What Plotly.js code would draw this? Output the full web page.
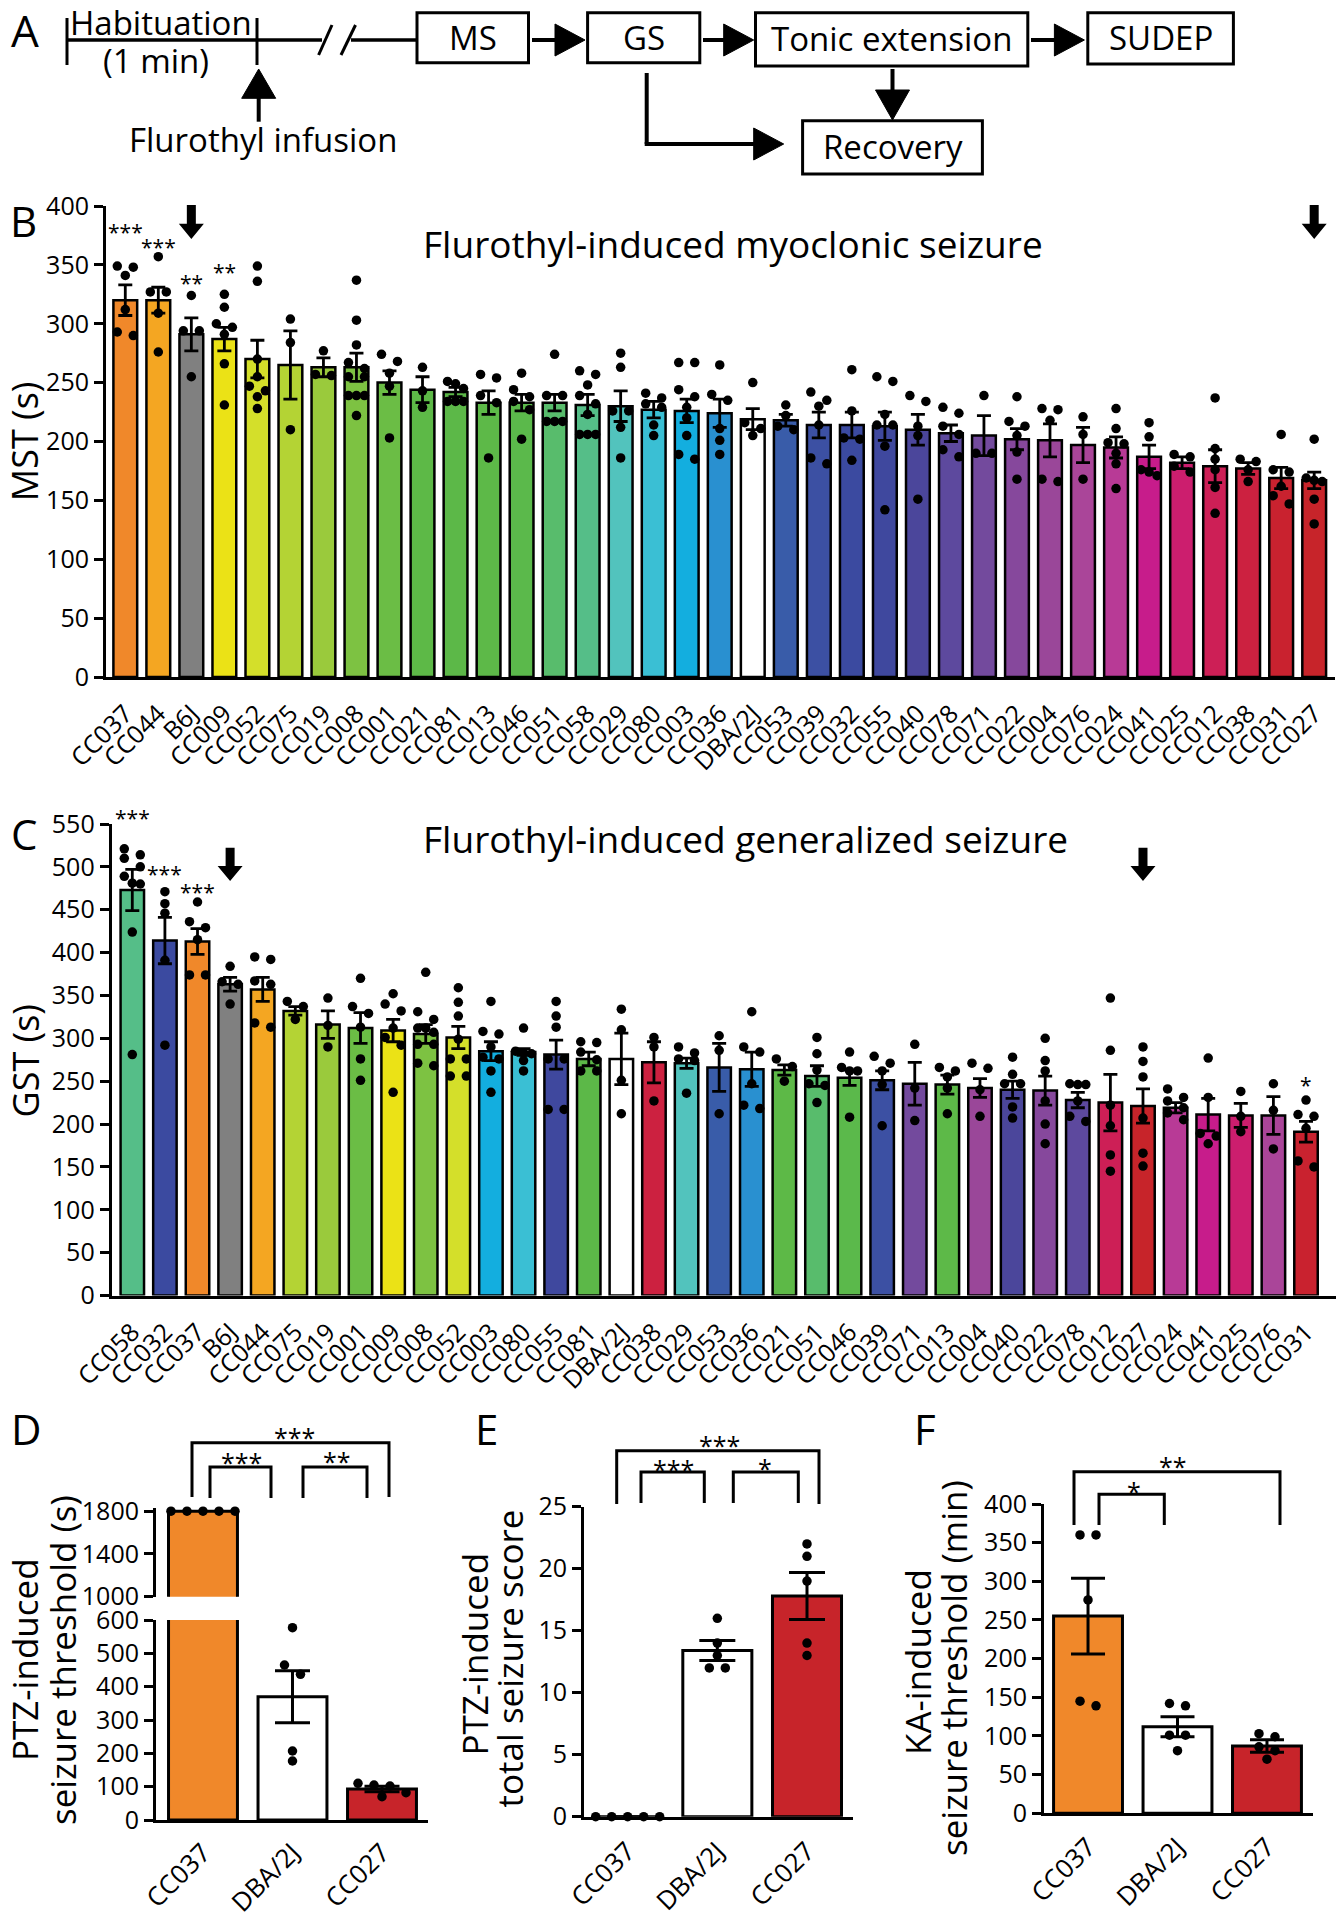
<!DOCTYPE html>
<html><head><meta charset="utf-8">
<script src="https://cdn.plot.ly/plotly-3.0.1.min.js"></script>
<style>html,body{margin:0;padding:0;background:#fff}#chart{width:1343px;height:1920px}</style>
</head><body><div id="chart"></div>
<script>
// ---------------- DATA ----------------
const strainsB = ['CC037','CC044','B6J','CC009','CC052','CC075','CC019','CC008','CC001','CC021','CC081','CC013','CC046','CC051','CC058','CC029','CC080','CC003','CC036','DBA/2J','CC053','CC039','CC032','CC055','CC040','CC078','CC071','CC022','CC004','CC076','CC024','CC041','CC025','CC012','CC038','CC031','CC027'];
const meanB = [320,320,291,287,270,265,263,263,250,244,242,233,233,233,231,230,227,226,224,219,218,214,214,213,210,207,205,202,201,197,195,187,182,179,177,169,167];
const semB  = [13,11,14,10,16,29,8,12,10,11,4,10,7,7,9,13,7,10,12,9,5,11,11,12,13,7,17,9,14,15,9,10,5,14,5,9,7];
const dotsB = [
 [348,349,341,312,293,290],[357,327,327,309,276],[324,294,294,255],[325,314,300,297,291,266,231],
 [349,336,270,255,247,243,238,228],[304,284,210],[277,257,256],[337,303,282,267,262,255,255,239,239,239,222],
 [274,268,258,247,203],[263,243,229],[251,249,245,234,234,234],[257,254,239,233,186],
 [258,244,238,234,227,202],[274,239,239,217,217,217],[260,257,248,239,232,223,206,206,206],[275,263,226,226,212,186],
 [241,237,232,229,214,205],[267,267,244,238,229,220,205,189,185],[265,240,235,211,201,189],[250,216,211,205],
 [231,222,213,210],[242,235,230,214,186,181],[261,226,203,202,184],[255,251,223,214,214,196,142],
 [239,234,213,205,151],[229,224,213,206,193,187],[239,190,190],[238,217,213,205,191,168],
 [228,227,218,168,166],[221,206,168],[228,211,199,198,190,181,160],[216,204,176,174,171],
 [189,187,179,174],[237,194,185,176,161,139],[185,183,176,166],[206,176,174,162,154,147],[202,169,167,166,151,130]
];
const starsB = {'CC037':'***','CC044':'***','B6J':'**','CC009':'**'};

const strainsC = ['CC058','CC032','CC037','B6J','CC044','CC075','CC019','CC001','CC009','CC008','CC052','CC003','CC080','CC055','CC081','DBA/2J','CC038','CC029','CC053','CC036','CC021','CC051','CC046','CC039','CC071','CC013','CC004','CC040','CC022','CC078','CC012','CC027','CC024','CC041','CC025','CC076','CC031'];
const meanC = [473,414,413,363,357,332,316,312,309,305,301,285,284,281,276,276,272,271,266,264,263,256,254,251,247,246,242,240,239,228,225,221,219,211,210,210,191];
const semC  = [24,27,15,8,14,5,16,18,13,11,13,11,4,17,8,30,24,6,28,20,6,12,9,11,25,11,11,10,17,9,33,20,6,19,14,22,12];
const dotsC = [
 [552,521,514,510,500,489,481,480,424,281],[471,457,446,391,292],[459,436,429,415,374,374],[384,366,363,340],
 [395,392,367,363,318,313],[343,337,322],[347,315,290],[370,337,329,313,276,251],
 [352,340,332,312,301,292,237],[377,331,322,312,312,307,293,293,271,268],[359,342,326,299,276,276,256,256],[343,308,305,290,278,276,262,237],
 [312,285,283,282,274,262],[343,326,313,276,276,217,217],[296,295,284,275,262,262],[334,310,251,212],
 [301,290,227],[290,283,276,274,236],[303,286,212],[331,290,284,247,222,218],
 [276,267,250],[301,282,263,247,245,225],[284,266,262,262,208],[279,271,262,246,198],
 [293,242,204],[266,262,255,242,212],[271,265,240,209],[278,258,247,247,220,207],
 [300,274,262,227,200,177],[247,246,246,227,209,203],[347,286,222,198,164,145],[290,273,255,207,166,151],
 [241,231,227,219,213,205],[277,231,189,186,177],[238,209,191],[247,216,171],[228,211,209,195,157,150]
];
const starsC = {'CC058':'***','CC032':'***','CC037':'***','CC031':'*'};

const strainsDEF = ['CC037','DBA/2J','CC027'];
const meanD = [1800,370,93];
const semD  = [0,78,8];
const dotsD = [[1800,1800,1800,1800,1800],[577,465,437,207,177],[110,105,102,82,70]];
const meanE = [0,13.4,17.8];
const semE  = [0,0.8,1.9];
const dotsE = [[0,0,0,0,0],[16,14,13,12,12],[22,21,19,14,13]];
const meanF = [255,112,87];
const semF  = [49,13,8];
const dotsF = [[360,360,276,145,139],[142,139,101,101,81],[103,99,86,81,70]];

const ticksB = [0,50,100,150,200,250,300,350,400];
const ticksC = [0,50,100,150,200,250,300,350,400,450,500,550];
const ticksDlow = [0,100,200,300,400,500,600];
const ticksDhigh = [1000,1400,1800];
const ticksE = [0,5,10,15,20,25];
const ticksF = [0,50,100,150,200,250,300,350,400];

// ---------------- STYLE ----------------
const colorMap = {
 'CC037':'#F0882A','CC044':'#F4A622','B6J':'#808080','CC009':'#EBE216','CC052':'#D4DF2A','CC075':'#B4D334',
 'CC019':'#9ACA3C','CC008':'#7DC242','CC001':'#6BBD45','CC021':'#5DB947','CC081':'#5CB848','CC013':'#5DB948',
 'CC046':'#5BB94B','CC051':'#58BC6C','CC058':'#55BE88','CC029':'#52C3BD','CC080':'#3ABFD4','CC003':'#13AEDF',
 'CC036':'#2990D0','DBA/2J':'#FFFFFF','CC053':'#395CA9','CC039':'#3C50A3','CC032':'#3B4AA0','CC055':'#3F489E',
 'CC040':'#4B469B','CC078':'#5D499E','CC071':'#734A9D','CC022':'#86489C','CC004':'#9A4799','CC076':'#AA4599',
 'CC024':'#B83A96','CC041':'#C71C8B','CC025':'#CC1E6E','CC012':'#CD1F56','CC038':'#CC2140','CC031':'#C9222F',
 'CC027':'#C7242A'
};

const W=1343, H=1920;
const px = x => x/W, py = y => 1 - y/H;
const G = {
  B:{x0:106,x1:1335,yb:677,yt:206,xr:[-0.584,36.63],yr:[0,400]},
  C:{x0:111.7,x1:1336,yb:1295.5,yt:824,xr:[-0.632,36.92],yr:[0,550]},
  D:{x0:156,x1:428,yb:1820,yt:1620,xr:[-0.525,2.514],yr:[0,600]},
  DU:{x0:156,x1:428,yb:1596.7,yt:1508,xr:[-0.525,2.514],yr:[1000,1830]},
  E:{x0:584,x1:853,yb:1816.7,yt:1506.7,xr:[-0.487,2.513],yr:[0,25]},
  F:{x0:1044,x1:1312.7,yb:1813.3,yt:1504,xr:[-0.492,2.511],yr:[0,400]}
};
const ppx = g => (g.x1-g.x0)/(g.xr[1]-g.xr[0]);
const ppy = g => (g.yb-g.yt)/(g.yr[1]-g.yr[0]);

// simple Prism-like scatter spreading (rows of near-equal values)
function swarm(vals, g, diam, spacing, maxSpread){
  const order = vals.map((_,i)=>i).sort((a,b)=>vals[b]-vals[a]);
  const offs = new Array(vals.length).fill(0);
  let row = [];
  const flush = ()=>{
    const n=row.length;
    const sp = n>1 ? Math.min(spacing, maxSpread/(n-1)) : 0;
    row.forEach((k,j)=>{ offs[k] = (j-(n-1)/2)*sp/ppx(g); });
    row=[];
  };
  order.forEach(k=>{
    if(row.length && (vals[row[0]]-vals[k])*ppy(g) >= diam) flush();
    row.push(k);
  });
  flush();
  return offs;
}

const traces = [];
function barTrace(strains, means, sems, xa, ya, bw, lw, et, ew){
  return {type:'bar', x:strains.map((_,i)=>i), y:means, width:bw, xaxis:xa, yaxis:ya,
    marker:{color:strains.map(s=>colorMap[s]), line:{color:'#000', width:lw}},
    error_y: sems ? {type:'data', array:sems, visible:true, color:'#000', thickness:et, width:ew} : {visible:false},
    hoverinfo:'skip'};
}
function dotTrace(dots, xa, ya, g, diam, spacing, maxSpread, ms, filter){
  const xs=[], ys=[];
  dots.forEach((arr,i)=>{
    const sel = arr.filter(filter || (()=>true));
    if(!sel.length) return;
    const o = swarm(sel, g, diam, spacing, maxSpread);
    sel.forEach((v,k)=>{ xs.push(i+o[k]); ys.push(v); });
  });
  return {type:'scatter', mode:'markers', x:xs, y:ys, xaxis:xa, yaxis:ya,
    marker:{color:'#000', size:ms, line:{width:0}}, cliponaxis:false, hoverinfo:'skip'};
}

traces.push(barTrace(strainsB, meanB, semB, 'x','y', 0.72, 2.5, 2.8, 7));
traces.push(dotTrace(dotsB, 'x','y', G.B, 9, 17, 16, 9.5));
traces.push(barTrace(strainsC, meanC, semC, 'x2','y2', 0.72, 2.5, 2.8, 7));
traces.push(dotTrace(dotsC, 'x2','y2', G.C, 9, 17, 16, 9.5));
// D broken axis
traces.push(barTrace(strainsDEF, meanD, semD, 'x3','y3', 0.77, 3, 3, 17.5));
traces.push(barTrace(strainsDEF, meanD, null, 'x3','y4', 0.77, 3, 3, 17.5));
traces.push(dotTrace(dotsD, 'x3','y3', G.D, 9.5, 16, 64, 9.5, v=>v<1000));
traces.push(dotTrace(dotsD, 'x3','y4', G.DU, 9.5, 16, 64, 9.5, v=>v>=1000));
traces.push(barTrace(strainsDEF, meanE, semE, 'x4','y5', 0.77, 3, 3, 18));
traces.push(dotTrace(dotsE, 'x4','y5', G.E, 9.5, 16, 64, 9.5));
traces.push(barTrace(strainsDEF, meanF, semF, 'x5','y6', 0.77, 3, 3, 17));
traces.push(dotTrace(dotsF, 'x5','y6', G.F, 9.5, 16, 64, 9.5));

// ---------------- AXES ----------------
function xAx(g, anchor, strains, fs, lw, so){
  return {domain:[px(g.x0),px(g.x1)], range:g.xr, anchor, tickmode:'array', tickvals:strains.map((_,i)=>i),
    ticktext:strains, tickangle:-45, tickfont:{size:fs}, showline:true, linecolor:'#000', linewidth:lw,
    ticks:'', showgrid:false, zeroline:false, fixedrange:true, ticklabelstandoff:so};
}
function yAx(g, anchor, ticks, fs, lw){
  return {domain:[py(g.yb),py(g.yt)], range:g.yr, anchor, tickmode:'array', tickvals:ticks,
    tickfont:{size:fs}, showline:true, linecolor:'#000', linewidth:lw, ticks:'outside', ticklen:9,
    tickwidth:lw, tickcolor:'#000', showgrid:false, zeroline:false, fixedrange:true};
}

// ---------------- SHAPES / ANNOTATIONS ----------------
const shapes = [], ann = [];
function line(x1,y1,x2,y2,w){ shapes.push({type:'line',xref:'paper',yref:'paper',x0:px(x1),y0:py(y1),x1:px(x2),y1:py(y2),line:{color:'#000',width:w||3}}); }
function rect(x1,y1,x2,y2){ shapes.push({type:'rect',xref:'paper',yref:'paper',x0:px(x1),y0:py(y1),x1:px(x2),y1:py(y2),line:{color:'#000',width:3},fillcolor:'rgba(0,0,0,0)'}); }
function tri(pts){ shapes.push({type:'path',xref:'paper',yref:'paper',path:'M'+pts.map(p=>px(p[0])+','+py(p[1])).join(' L')+' Z',fillcolor:'#000',line:{color:'#000',width:1}}); }
function txt(x,y,t,fs,extra){ ann.push(Object.assign({xref:'paper',yref:'paper',x:px(x),y:py(y),text:t,showarrow:false,xanchor:'center',yanchor:'middle',font:{size:fs,color:'#000'}},extra||{})); }
function arrowR(xs,xt,y){ line(xs,y,xt-22,y,4); tri([[xt-30,y-16],[xt,y],[xt-30,y+16]]); }
function bracket(xl,xr,yt,yb){ shapes.push({type:'path',xref:'paper',yref:'paper',path:`M${px(xl)},${py(yb)} L${px(xl)},${py(yt)} L${px(xr)},${py(yt)} L${px(xr)},${py(yb)}`,line:{color:'#000',width:3},fillcolor:'rgba(0,0,0,0)'}); }
function blockArrow(xref, xi, yt, yb){
  const ym = yt + (yb-yt)*0.55;
  shapes.push({type:'path',xref,yref:'paper',xsizemode:'pixel',xanchor:xi,
    path:`M -4.5,${py(yt)} L 4.5,${py(yt)} L 4.5,${py(ym)} L 12.5,${py(ym)} L 0,${py(yb)} L -12.5,${py(ym)} L -4.5,${py(ym)} Z`,
    fillcolor:'#000',line:{color:'#000',width:0}});
}

// Panel A
txt(25,30,'A',44);
line(67,40,322,40,3.5); line(67,18,67,65,3); line(257,18,257,65,3);
line(318.6,55,332,25,3); line(341,55,355.5,25,3);
line(351,40,417,40,3.5);
rect(417,12.7,528.5,62.7); rect(587.6,12.7,699.8,62.7); rect(755.5,12.7,1027.8,66); rect(1087.8,12.7,1233.4,64); rect(802.6,120.7,982.4,174);
arrowR(532,585,40); arrowR(703,753.7,40); arrowR(1031,1084.4,40);
line(646.7,73,646.7,144,4); arrowR(644.7,783.7,144);
line(892.5,69,892.5,95,4); tri([[875.5,90],[909.5,90],[892.5,120]]);
line(258.7,121.7,258.7,95,4); tri([[241.7,98.3],[275.7,98.3],[258.7,69]]);
txt(160.6,22.5,'Habituation',33); txt(155.6,60.5,'(1 min)',33);
txt(473,38,'MS',33); txt(643.7,38,'GS',33); txt(891.6,39,'Tonic extension',33); txt(1160.6,38,'SUDEP',33);
txt(892.5,147,'Recovery',33); txt(262.5,140,'Flurothyl infusion',33);

// Panel B / C
txt(23.5,220,'B',42); txt(23.5,833,'C',42);
txt(733,243,'Flurothyl-induced myoclonic seizure',37);
txt(745,838.5,'Flurothyl-induced generalized seizure',37);
txt(24.5,441.7,'MST (s)',36,{textangle:-90});
txt(24.5,1061,'GST (s)',36,{textangle:-90});
const starYB = {'CC037':231.5,'CC044':246.5,'B6J':283.2,'CC009':272.2};
Object.keys(starsB).forEach(s=>ann.push({xref:'x',yref:'paper',x:strainsB.indexOf(s),y:py(starYB[s]),text:starsB[s],showarrow:false,xanchor:'center',yanchor:'middle',font:{size:21,color:'#000'}}));
const starYC = {'CC058':818.2,'CC032':874,'CC037':891.5,'CC031':1085};
Object.keys(starsC).forEach(s=>ann.push({xref:'x2',yref:'paper',x:strainsC.indexOf(s),y:py(starYC[s]),text:starsC[s],showarrow:false,xanchor:'center',yanchor:'middle',font:{size:21,color:'#000'}}));
blockArrow('x', strainsB.indexOf('B6J'), 205, 239);
blockArrow('x', strainsB.indexOf('CC027'), 205, 239);
blockArrow('x2', strainsC.indexOf('B6J'), 847.7, 881);
blockArrow('x2', strainsC.indexOf('CC027'), 847.7, 881);

// Panel D/E/F
txt(26,1428,'D',42); txt(486,1428,'E',42); txt(925,1428,'F',42);
txt(24,1660,'PTZ-induced',35,{textangle:-90}); txt(62,1660,'seizure threshold (s)',35,{textangle:-90});
txt(473.5,1654,'PTZ-induced',35,{textangle:-90}); txt(508.5,1659,'total seizure score',35,{textangle:-90});
txt(917,1662,'KA-induced',35,{textangle:-90}); txt(953,1668,'seizure threshold (min)',35,{textangle:-90});
bracket(192,389,1442.7,1497); bracket(210,271,1467,1498); bracket(303,367,1467,1498);
txt(294,1436.5,'***',25); txt(241.7,1462.2,'***',25); txt(336.7,1461.2,'**',25);
bracket(616.7,819,1450.7,1504); bracket(641,704.3,1472,1503); bracket(733.3,798.3,1472,1503);
txt(719.3,1445,'***',25); txt(673.3,1469.2,'***',25); txt(765,1468.2,'*',25);
bracket(1074,1280,1471.7,1525); bracket(1099,1164.3,1494.3,1525);
txt(1172.7,1466,'**',25); txt(1134,1491,'*',25);

const layout = {
  width:W, height:H, margin:{l:0,r:0,t:0,b:0}, paper_bgcolor:'#fff', plot_bgcolor:'rgba(0,0,0,0)',
  showlegend:false, barmode:'overlay', font:{family:'"Open Sans", sans-serif', color:'#000'},
  xaxis: xAx(G.B,'y',strainsB,25,3,9), yaxis: yAx(G.B,'x',ticksB,25,3),
  xaxis2: xAx(G.C,'y2',strainsC,25,3,9), yaxis2: yAx(G.C,'x2',ticksC,25,3),
  xaxis3: xAx(G.D,'y3',strainsDEF,26,3,4), yaxis3: yAx(G.D,'x3',ticksDlow,25,3), yaxis4: yAx(G.DU,'x3',ticksDhigh,25,3),
  xaxis4: xAx(G.E,'y5',strainsDEF,26,3,6), yaxis5: yAx(G.E,'x4',ticksE,25,3),
  xaxis5: xAx(G.F,'y6',strainsDEF,26,3,5), yaxis6: yAx(G.F,'x5',ticksF,25,3),
  shapes, annotations:ann
};
Plotly.newPlot('chart', traces, layout, {staticPlot:true, displayModeBar:false});
</script></body></html>
